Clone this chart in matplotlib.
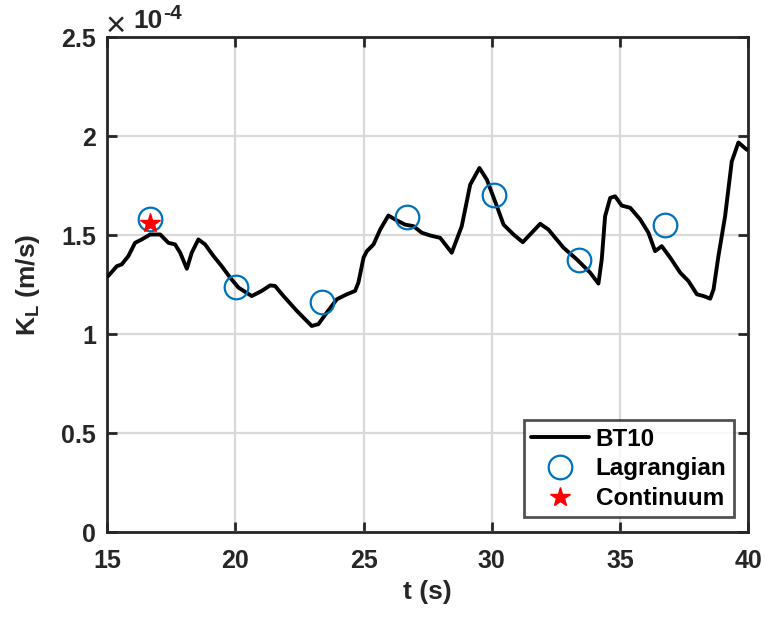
import matplotlib
matplotlib.use('Agg')
import matplotlib.pyplot as plt
from matplotlib.ticker import FuncFormatter

plt.rcParams['font.family'] = ['Liberation Sans', 'DejaVu Sans']
plt.rcParams['font.weight'] = 'bold'
plt.rcParams['mathtext.fontset'] = 'custom'
plt.rcParams['mathtext.rm'] = 'Liberation Sans:bold'
plt.rcParams['mathtext.bf'] = 'Liberation Sans:bold'
plt.rcParams['mathtext.default'] = 'rm'

# BT10 mass transfer coefficient (units of 1e-4 m/s)
t_bt10 = [15.04, 15.38, 15.57, 15.83, 16.09, 16.35, 16.68, 17.07, 17.39, 17.65,
          17.85, 18.11, 18.30, 18.56, 18.82, 19.15, 19.47, 19.80, 20.12, 20.64,
          21.03, 21.36, 21.55, 21.88, 22.40, 22.98, 23.24, 23.57, 23.96, 24.35,
          24.67, 24.80, 25.00, 25.13, 25.39, 25.65, 25.97, 26.23, 26.62, 26.95,
          27.27, 27.60, 27.99, 28.44, 28.83, 29.16, 29.52, 29.81, 30.20, 30.46,
          30.85, 31.21, 31.56, 31.89, 32.21, 32.80, 33.32, 33.84, 34.16, 34.29,
          34.42, 34.62, 34.81, 35.07, 35.40, 35.79, 36.11, 36.37, 36.63, 36.96,
          37.35, 37.67, 38.00, 38.26, 38.52, 38.65, 38.84, 39.10, 39.36, 39.62,
          39.95]
k_bt10 = [1.293, 1.343, 1.352, 1.394, 1.461, 1.478, 1.503, 1.503, 1.461, 1.453,
          1.411, 1.330, 1.411, 1.478, 1.453, 1.394, 1.343, 1.285, 1.235, 1.192,
          1.218, 1.246, 1.243, 1.192, 1.117, 1.041, 1.050, 1.109, 1.176, 1.201,
          1.218, 1.260, 1.386, 1.419, 1.453, 1.528, 1.599, 1.579, 1.553, 1.545,
          1.512, 1.498, 1.486, 1.411, 1.545, 1.755, 1.839, 1.780, 1.646, 1.553,
          1.503, 1.464, 1.512, 1.557, 1.528, 1.436, 1.377, 1.310, 1.255, 1.377,
          1.595, 1.688, 1.696, 1.649, 1.638, 1.579, 1.512, 1.419, 1.444, 1.386,
          1.310, 1.268, 1.201, 1.192, 1.179, 1.226, 1.394, 1.595, 1.872, 1.968,
          1.931]

t_lag = [16.68, 20.03, 23.37, 26.71, 30.07, 33.41, 36.74]
k_lag = [1.579, 1.238, 1.164, 1.592, 1.705, 1.374, 1.550]

t_cont = [16.68]
k_cont = [1.562]

dark = '#262626'

fig = plt.figure(figsize=(7.65, 6.19), dpi=100)
ax = fig.add_axes([0.140, 0.1405, 0.838, 0.7995])

ax.plot(t_bt10, k_bt10, color='k', lw=2.8, label='BT10', zorder=3,
        solid_joinstyle='round', solid_capstyle='round')
ax.plot(t_lag, k_lag, ls='none', marker='o', ms=17, mfc='none',
        mec='#0072BD', mew=1.6, label='Lagrangian', zorder=4)
ax.plot(t_cont, k_cont, ls='none', marker='*', ms=15, color='#FF0000',
        mec='#FF0000', label='Continuum', zorder=5)

ax.set_xlim(15, 40)
ax.set_ylim(0, 2.5)
ax.set_xticks([15, 20, 25, 30, 35, 40])
ax.set_yticks([0, 0.5, 1, 1.5, 2, 2.5])
ax.yaxis.set_major_formatter(FuncFormatter(lambda v, p: '%g' % v))

ax.grid(True, color='#d9d9d9', lw=1.6)
ax.set_axisbelow(True)
for s in ax.spines.values():
    s.set_linewidth(2.0)
    s.set_color(dark)
ax.tick_params(direction='in', length=7, width=2.0, color=dark,
               labelsize=18, labelcolor=dark, top=True, right=True)
ax.tick_params(axis='x', pad=12)
ax.tick_params(axis='y', pad=8)
for lab in ax.get_xticklabels() + ax.get_yticklabels():
    lab.set_fontweight('bold')

ax.set_xlabel('t (s)', fontsize=19, fontweight='bold', color=dark, labelpad=5)
ax.set_ylabel(r'K$_{\mathrm{L}}$ (m/s)', fontsize=19, fontweight='bold',
              color=dark, labelpad=14)

# axis multiplier drawn in pieces: thin "x", bold "10", raised "-4"
ax.annotate('\u00d7', xy=(0, 1), xycoords='axes fraction', xytext=(-1, -4),
            textcoords='offset points', ha='left', va='bottom', fontsize=25,
            fontweight='normal', color=dark)
ax.annotate('10', xy=(0, 1), xycoords='axes fraction', xytext=(19, 3),
            textcoords='offset points', ha='left', va='bottom', fontsize=19,
            color=dark)
ax.annotate('-4', xy=(0, 1), xycoords='axes fraction', xytext=(40, 10),
            textcoords='offset points', ha='left', va='bottom', fontsize=15,
            color=dark)

leg = ax.legend(loc='lower right', fontsize=17.5, frameon=True, fancybox=False,
                handlelength=2.4, borderaxespad=0.6, borderpad=0.3,
                labelspacing=0.28, handletextpad=0.25)
leg.get_frame().set_edgecolor(dark)
leg.get_frame().set_linewidth(2.0)
for txt in leg.get_texts():
    txt.set_fontweight('bold')
    txt.set_color('k')

fig.savefig('out.png', dpi=100)
